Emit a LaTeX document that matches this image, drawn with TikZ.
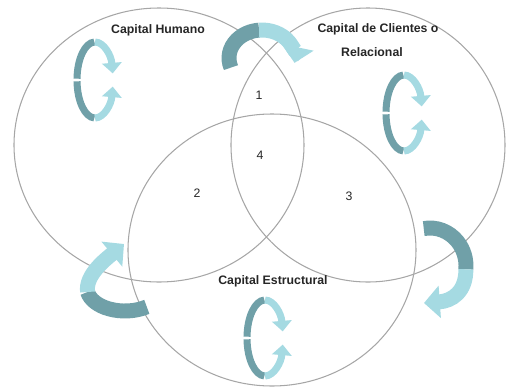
\documentclass[tikz,border=0pt]{standalone}
\usepackage{fontspec}
\setmainfont{Liberation Sans}
\usetikzlibrary{arrows.meta}
\definecolor{oscuro}{RGB}{112,160,168}
\definecolor{claro}{RGB}{165,218,226}
\tikzset{
	circulo/.style={draw=gray!70, line width=0.6pt},
	etiqueta/.style={font=\fontsize{7}{8}\selectfont\bfseries, text=black!85},
	numero/.style={font=\fontsize{7}{8}\selectfont, text=black!85},
	cinta/.style={line width=4pt},
	flecha/.style={line width=8.5pt},
	ciclo/.pic={
		\draw[cinta,oscuro] (92:18 and 38) arc[start angle=92,end angle=178,x radius=18,y radius=38];
		\draw[cinta,oscuro] (182:18 and 38) arc[start angle=182,end angle=268,x radius=18,y radius=38];
		\draw[cinta,claro,-{Triangle[width=11pt,length=6pt]}] (90:18 and 38) arc[start angle=90,end angle=10,x radius=18,y radius=38];
		\draw[cinta,claro,-{Triangle[width=11pt,length=6pt]}] (270:18 and 38) arc[start angle=270,end angle=350,x radius=18,y radius=38];
	}
}
\begin{document}
\begin{tikzpicture}[x=0.02cm,y=0.02cm]
	\useasboundingbox (0,0) rectangle (512,387);
	% los tres capitales
	\draw[circulo] (159,242) ellipse[x radius=145,y radius=137];
	\draw[circulo] (368,242) circle[radius=137];
	\draw[circulo] (272,137) ellipse[x radius=144,y radius=136];
	% ciclos dentro de cada circulo
	\pic at (95,307) {ciclo};
	\pic at (404,274) {ciclo};
	\pic at (265,49) {ciclo};
	% flecha de arriba
	\draw[flecha,oscuro] (262,329) ++(200:33 and 28) arc[start angle=200,end angle=95,x radius=33,y radius=28];
	\draw[flecha,claro,-{Triangle[width=18pt,length=9pt]}] (262,329) ++(95:33 and 28) arc[start angle=95,end angle=-10,x radius=33,y radius=28];
	% flecha de la derecha
	\draw[flecha,oscuro] (430,121) ++(100:36 and 38) arc[start angle=100,end angle=-5,x radius=36,y radius=38];
	\draw[flecha,claro,-{Triangle[width=18pt,length=9pt]}] (465.9,117.7) .. controls (466,95) and (452,86) .. (424,84);
	% flecha de la izquierda
	\draw[flecha,oscuro] (125,99) ++(-55:38 and 23) arc[start angle=-55,end angle=-170,x radius=38,y radius=23];
	\draw[flecha,claro,-{Triangle[width=18pt,length=9pt]}] (87.6,95) .. controls (85,112) and (106,128) .. (124,143);
	% textos
	\node[etiqueta] (humano) at (158,357) {Capital Humano};
	\node[etiqueta] (clientes) at (378,358) {Capital de Clientes o};
	\node[etiqueta] (relacional) at (372,335) {Relacional};
	\node[etiqueta] (estructural) at (273,106) {Capital Estructural};
	\node[numero] (uno) at (259,292) {1};
	\node[numero] (cuatro) at (260,232) {4};
	\node[numero] (dos) at (197,194) {2};
	\node[numero] (tres) at (349,191) {3};
\end{tikzpicture}
\end{document}
